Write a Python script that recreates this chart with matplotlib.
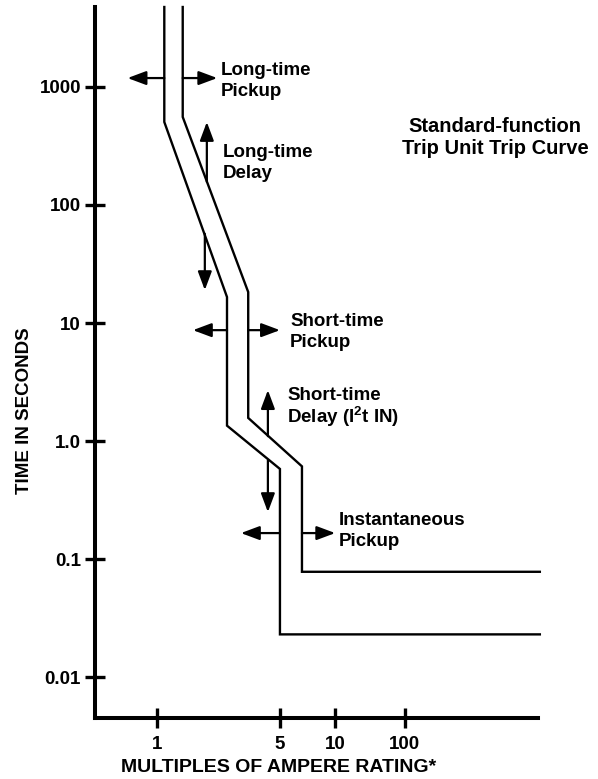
import numpy as np
import matplotlib
matplotlib.use("Agg")
import matplotlib.pyplot as plt

plt.rcParams['font.family'] = ['Liberation Sans', 'DejaVu Sans']
plt.rcParams['font.weight'] = 'bold'
plt.rcParams['mathtext.fontset'] = 'custom'
plt.rcParams['mathtext.bf'] = 'Liberation Sans:bold'
plt.rcParams['mathtext.rm'] = 'Liberation Sans:bold'

# trip curves (multiples of ampere rating, seconds)
x_min = [1.1, 1.1, 2.5, 2.5, 5.0, 5.0, 8500]
y_min = [4760, 505, 16.6, 1.35, 0.58, 0.023, 0.023]
x_max = [1.4, 1.4, 3.3, 3.3, 6.6, 6.6, 8500]
y_max = [4760, 557, 18.3, 1.57, 0.61, 0.078, 0.078]

# adjustment arrows: start -> tip
arr_x0 = [1.1, 1.4, 1.92, 1.87, 2.5, 3.3, 4.27, 4.27, 5.0, 6.6]
arr_y0 = [1190, 1190, 157, 57, 8.7, 8.7, 1.10, 0.69, 0.166, 0.166]
arr_x1 = [0.68, 2.2, 1.92, 1.87, 1.6, 5.0, 4.27, 4.27, 3.0, 10.1]
arr_y1 = [1190, 1190, 505, 19, 8.7, 8.7, 2.7, 0.25, 0.166, 0.166]

yticks = [0.01, 0.1, 1, 10, 100, 1000]
ytick_labels = ['0.01', '0.1', '1.0', '10', '100', '1000']
xticks = [1, 5, 10, 100]
xtick_labels = ['1', '5', '10', '100']

# the printed x axis is not a true log scale: piecewise in log10
knot_val = np.log10([0.1, 1, 5, 10, 100, 10000])
knot_pos = [-176, 0, 123, 178, 248, 388]

def fwd(x):
    x = np.clip(np.asarray(x, dtype=float), 1e-6, None)
    return np.interp(np.log10(x), knot_val, knot_pos)

def inv(p):
    return 10 ** np.interp(p, knot_pos, knot_val)

W, H = 598, 779
fig = plt.figure(figsize=(W / 100, H / 100), dpi=100)
ax = fig.add_axes([95 / W, 1 - 718 / H, (538 - 95) / W, (718 - 7) / H])
ax.set_xscale('function', functions=(fwd, inv))
ax.set_yscale('log')
ax.set_xlim(0.444, 8000)
ax.set_ylim(0.0045, 4760)

ax.plot(x_min, y_min, color='black', lw=1.7, clip_on=False, solid_joinstyle='miter')
ax.plot(x_max, y_max, color='black', lw=1.7, clip_on=False, solid_joinstyle='miter')

for x0, y0, x1, y1 in zip(arr_x0, arr_y0, arr_x1, arr_y1):
    ax.annotate('', xy=(x1, y1), xytext=(x0, y0),
                arrowprops=dict(arrowstyle='-|>,head_length=0.75,head_width=0.28',
                                mutation_scale=15, lw=1.6, color='black',
                                shrinkA=0, shrinkB=0))

for s in ['top', 'right']:
    ax.spines[s].set_visible(False)
for s in ['left', 'bottom']:
    ax.spines[s].set_linewidth(2.9)

ax.set_yticks(yticks)
ax.set_yticklabels(ytick_labels)
ax.set_xticks(xticks)
ax.set_xticklabels(xtick_labels)
ax.yaxis.set_minor_locator(matplotlib.ticker.NullLocator())
ax.xaxis.set_minor_locator(matplotlib.ticker.NullLocator())
ax.tick_params(axis='y', direction='inout', length=14, width=2.4, pad=3, labelsize=13.5)
ax.tick_params(axis='x', direction='inout', length=14, width=2.4, pad=6, labelsize=13.5)

def px(x, y):
    return x / W, 1 - y / H

fig.text(*px(25, 411), 'TIME IN SECONDS', rotation=90, ha='center', va='center',
         fontsize=13.5, fontweight='bold')
fig.text(*px(279, 768), 'MULTIPLES OF AMPERE RATING*', ha='center', va='center',
         fontsize=14, fontweight='bold')

fig.text(*px(495, 138), 'Standard-function\nTrip Unit Trip Curve', ha='center',
         va='center', fontsize=14.5, fontweight='bold', linespacing=1.2)

labels = ['Long-time\nPickup', 'Long-time\nDelay', 'Short-time\nPickup',
          'Short-time\nDelay (I$^{2}$t IN)', 'Instantaneous\nPickup']
label_px = [(221, 81), (223, 163), (290, 332), (287, 408), (339, 531)]
label_ls = [1.25, 1.25, 1.25, 1.0, 1.25]
for t, (lx, ly), ls in zip(labels, label_px, label_ls):
    fig.text(*px(lx, ly), t, ha='left', va='center', fontsize=13.5,
             fontweight='bold', linespacing=ls)

fig.savefig('out.png', dpi=100)
